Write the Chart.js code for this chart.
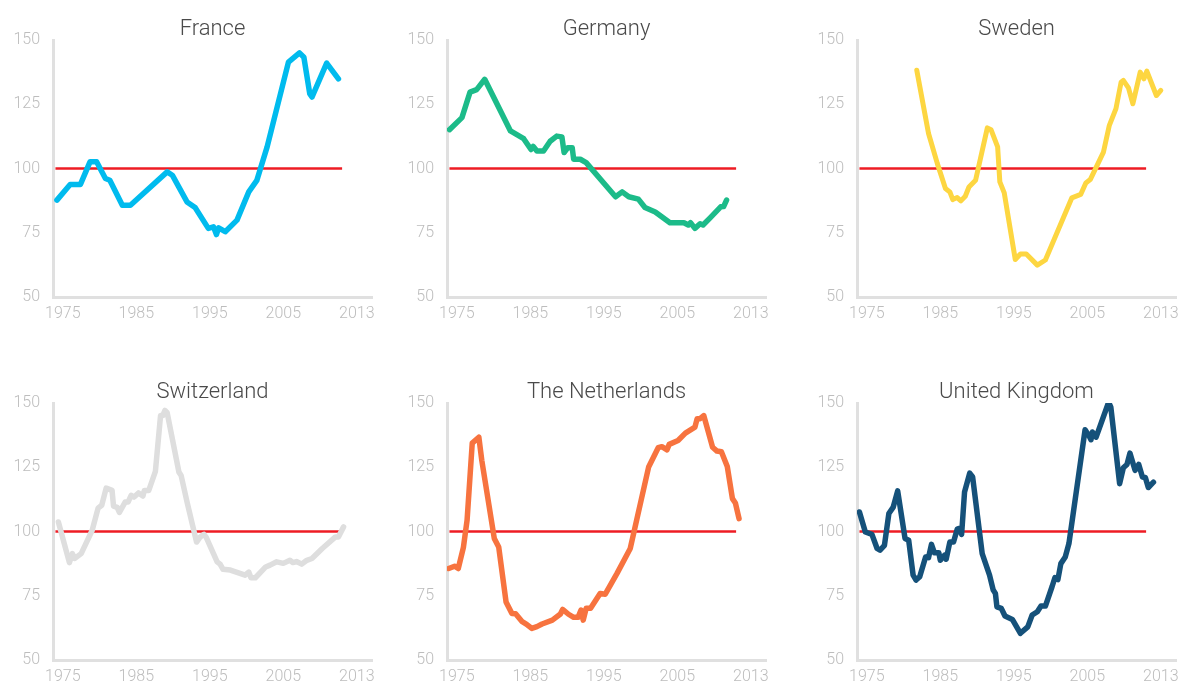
<!DOCTYPE html>
<html>
<head>
<meta charset="utf-8">
<script src="https://cdn.jsdelivr.net/npm/chart.js@4/dist/chart.umd.min.js"></script>
<style>
  body { margin: 0; background: #fff; width: 1181px; height: 684px; overflow: hidden; position: relative; }
  .panel { position: absolute; }
</style>
</head>
<body>
<script>
// house price index vs. long-run average
const countries = ['France', 'Germany', 'Sweden', 'Switzerland', 'The Netherlands', 'United Kingdom'];
const xTickValues = [1975, 1985, 1995, 2005, 2015];
const xTickLabels = ['1975', '1985', '1995', '2005', '2013'];
const yTicks = [50, 75, 100, 125, 150];
const refValue = 100;
const refSpan = [1974, 2013];

const france = [[1974.2,87.7],[1976.0,93.8],[1977.4,93.8],[1978.7,102.6],[1979.6,102.6],[1980.8,96.1],[1981.4,95.4],
  [1983.1,85.7],[1984.2,85.7],[1989.2,98.7],[1989.9,97.4],[1991.9,87.0],[1993.0,84.8],[1994.8,76.7],[1995.5,77.3],
  [1995.9,74.3],[1996.2,76.9],[1997.1,75.4],[1998.7,79.9],[2000.3,90.9],[2001.4,95.4],[2002.8,108.4],[2005.7,141.4],
  [2007.2,145.0],[2007.8,143.3],[2008.6,129.1],[2008.9,127.8],[2010.9,141.0],[2012.5,134.9]];

const germany = [[1974.0,115.1],[1975.7,119.8],[1976.8,129.7],[1977.7,130.7],[1978.8,134.7],[1982.3,114.6],[1984.1,111.6],
  [1985.1,107.4],[1985.4,108.6],[1985.9,106.8],[1986.8,106.8],[1987.7,110.6],[1988.6,112.6],[1989.3,112.3],[1989.6,106.2],
  [1990.1,108.1],[1990.7,108.1],[1990.9,103.6],[1991.8,103.6],[1992.6,102.3],[1996.6,89.0],[1997.5,90.9],[1998.4,89.0],
  [1999.7,88.1],[2000.6,84.8],[2002.0,83.1],[2004.0,78.9],[2005.9,78.9],[2006.5,78.0],[2006.8,78.9],[2007.4,76.7],
  [2008.1,78.5],[2008.5,78.0],[2009.5,80.9],[2010.9,85.1],[2011.3,85.2],[2011.7,87.7]];

const sweden = [[1981.8,138.2],[1983.4,113.6],[1984.6,101.9],[1985.7,92.2],[1986.3,90.9],[1986.7,87.9],[1987.3,88.7],
  [1987.8,87.4],[1988.4,89.2],[1988.9,92.8],[1989.8,95.4],[1991.4,115.8],[1991.9,115.1],[1992.8,108.4],[1993.1,94.8],
  [1993.7,90.5],[1995.2,64.6],[1995.9,66.7],[1996.7,66.7],[1998.2,62.4],[1999.3,64.4],[2002.9,88.6],[2004.1,89.9],
  [2004.8,94.4],[2005.4,95.7],[2007.2,106.4],[2008.0,116.8],[2008.9,123.3],[2009.6,133.6],[2009.9,134.3],[2010.6,131.4],
  [2011.2,125.2],[2012.2,137.5],[2012.7,134.9],[2013.1,137.9],[2014.4,128.4],[2015.0,130.4]];

const switzerland = [[1974.4,103.7],[1975.9,87.9],[1976.3,91.4],[1976.6,89.5],[1977.5,91.4],[1979.0,100.5],[1979.8,109.1],
  [1980.3,110.2],[1980.9,116.9],[1981.7,116.0],[1981.9,109.9],[1982.4,109.4],[1982.7,107.4],[1983.5,111.5],[1983.9,111.5],
  [1984.3,114.1],[1984.7,113.4],[1985.3,115.0],[1985.9,113.8],[1986.1,116.0],[1986.7,116.0],[1987.6,123.4],[1988.3,145.1],
  [1988.6,145.1],[1988.9,147.1],[1989.2,146.2],[1990.8,123.1],[1991.1,121.8],[1991.9,111.5],[1993.2,95.9],[1993.7,97.9],
  [1994.2,98.9],[1994.5,97.8],[1996.0,88.2],[1996.4,87.3],[1996.8,85.3],[1997.8,85.0],[1998.7,84.1],[1999.8,83.0],
  [2000.3,84.2],[2000.6,82.0],[2001.2,82.0],[2002.6,86.2],[2003.2,86.9],[2004.1,88.2],[2005.0,87.6],[2005.9,88.8],
  [2006.3,87.9],[2006.8,88.3],[2007.5,87.3],[2008.2,88.8],[2008.9,89.5],[2010.3,93.4],[2012.1,97.9],[2012.5,97.9],
  [2013.2,101.8]];

const netherlands = [[1973.9,85.6],[1974.7,86.5],[1975.2,85.6],[1975.9,93.8],[1976.4,104.4],[1977.1,134.4],[1978.0,136.7],
  [1978.4,127.7],[1980.1,97.3],[1980.7,94.0],[1981.7,72.6],[1982.5,68.1],[1983.0,68.0],[1983.9,64.9],[1984.5,63.9],
  [1985.2,62.3],[1985.9,63.0],[1986.6,64.0],[1988.0,65.5],[1989.1,67.9],[1989.4,69.7],[1990.2,67.8],[1990.9,66.6],
  [1991.5,66.6],[1991.9,69.4],[1992.2,65.5],[1992.6,70.1],[1993.2,70.1],[1994.5,75.9],[1995.2,75.6],[1996.8,83.7],
  [1998.6,93.4],[2001.1,125.1],[2002.4,132.6],[2002.9,133.0],[2003.6,131.8],[2003.9,133.9],[2005.1,135.4],[2006.1,138.3],
  [2007.4,140.6],[2007.7,143.9],[2008.1,143.9],[2008.6,145.1],[2009.8,132.8],[2010.4,131.3],[2011.0,131.0],[2011.8,125.3],
  [2012.5,112.8],[2012.9,111.1],[2013.4,105.0]];

const unitedKingdom = [[1974.0,107.6],[1974.8,99.8],[1975.7,98.9],[1976.4,93.4],[1976.8,92.7],[1977.4,94.6],[1978.0,107.0],
  [1978.6,109.5],[1979.2,115.8],[1980.2,97.3],[1980.7,96.6],[1981.3,83.0],[1981.7,81.1],[1982.2,82.4],[1983.0,90.1],
  [1983.4,89.8],[1983.8,95.0],[1984.2,91.7],[1984.8,91.7],[1985.0,88.8],[1985.6,90.8],[1985.8,89.2],[1986.3,95.9],
  [1986.8,95.9],[1987.3,100.9],[1987.6,101.2],[1987.9,98.9],[1988.3,115.4],[1989.0,122.7],[1989.4,121.2],[1990.7,91.4],
  [1991.7,83.0],[1992.2,77.2],[1992.5,75.9],[1992.7,70.7],[1993.3,70.1],[1993.8,67.1],[1994.8,65.8],[1995.9,60.4],
  [1996.9,62.9],[1997.5,67.5],[1998.2,68.8],[1998.7,71.0],[1999.3,71.0],[2000.2,78.5],[2000.6,82.1],[2001.0,81.3],
  [2001.4,87.5],[2002.0,90.1],[2002.5,95.3],[2004.7,139.6],[2005.2,137.4],[2005.5,135.7],[2005.7,138.7],[2006.2,136.7],
  [2007.9,150.3],[2008.2,148.4],[2009.4,118.6],[2009.9,124.8],[2010.4,126.1],[2010.8,130.5],[2011.5,123.8],[2012.0,126.1],
  [2012.5,121.2],[2012.9,121.0],[2013.3,117.1],[2014.0,119.2]];

const series = [france, germany, sweden, switzerland, netherlands, unitedKingdom];
const colors = ['#00bbee', '#1cbb89', '#fdd641', '#dedede', '#f7733f', '#15517a'];

// layout of the 3x2 grid (plot area edges)
const colLeft = [52.7, 446.7, 856.7];
const rowTop = [40, 403];
const plotW = 319, plotH = 257;
const yAxisW = 50, titleH = 44, xAxisH = 32;
const pxPerYear = 7.35;
const xMin = 1975 - 9.8 / pxPerYear;
const xMax = xMin + plotW / pxPerYear;

const fontFam = "Roboto, 'Helvetica Neue', 'Liberation Sans', sans-serif";

countries.forEach((name, i) => {
  const col = i % 3, row = Math.floor(i / 3);
  const div = document.createElement('div');
  div.className = 'panel';
  div.style.left = (colLeft[col] - yAxisW) + 'px';
  div.style.top = (rowTop[row] - titleH) + 'px';
  div.style.width = (yAxisW + plotW + 20) + 'px';
  div.style.height = (titleH + plotH + xAxisH) + 'px';
  const canvas = document.createElement('canvas');
  div.appendChild(canvas);
  document.body.appendChild(div);

  new Chart(canvas, {
    type: 'line',
    data: {
      datasets: [
        {
          label: name,
          data: series[i].map(p => ({ x: p[0], y: p[1] })),
          borderColor: colors[i],
          borderWidth: i === 2 ? 5 : 5.5,
          pointRadius: 0,
          tension: 0,
          borderJoinStyle: 'round',
          borderCapStyle: 'round'
        },
        {
          label: 'average',
          data: refSpan.map(x => ({ x: x, y: refValue })),
          borderColor: '#ee1c24',
          borderWidth: 2.5,
          pointRadius: 0
        }
      ]
    },
    options: {
      responsive: true,
      maintainAspectRatio: false,
      animation: false,
      layout: { padding: { top: 0, right: 20, bottom: 0, left: 0 } },
      plugins: {
        legend: { display: false },
        tooltip: { enabled: false },
        title: {
          display: true,
          text: name,
          fullSize: false,
          color: '#4a4a4a',
          font: { family: fontFam, size: 22, weight: 300, lineHeight: 0.9 },
          padding: { top: 23.8, bottom: 0.4 }
        }
      },
      scales: {
        x: {
          type: 'linear',
          min: xMin,
          max: xMax,
          afterFit: s => { s.height = xAxisH; },
          afterBuildTicks: s => { s.ticks = xTickValues.map(v => ({ value: v })); },
          grid: { display: false, drawTicks: false },
          border: { display: true, color: '#e0e0e0', width: 3 },
          ticks: {
            autoSkip: false,
            maxRotation: 0,
            padding: 7,
            color: '#bdbdbd',
            font: { family: fontFam, size: 16, weight: 300 },
            callback: (v, idx) => xTickLabels[idx]
          }
        },
        y: {
          min: yTicks[0],
          max: yTicks[yTicks.length - 1],
          afterFit: s => { s.width = yAxisW; },
          afterBuildTicks: s => { s.ticks = yTicks.map(v => ({ value: v })); },
          grid: { display: false, drawTicks: false },
          border: { display: true, color: '#e0e0e0', width: 3 },
          ticks: {
            padding: 13,
            color: '#bdbdbd',
            font: { family: fontFam, size: 16, weight: 300 }
          }
        }
      }
    }
  });
});
</script>
</body>
</html>
